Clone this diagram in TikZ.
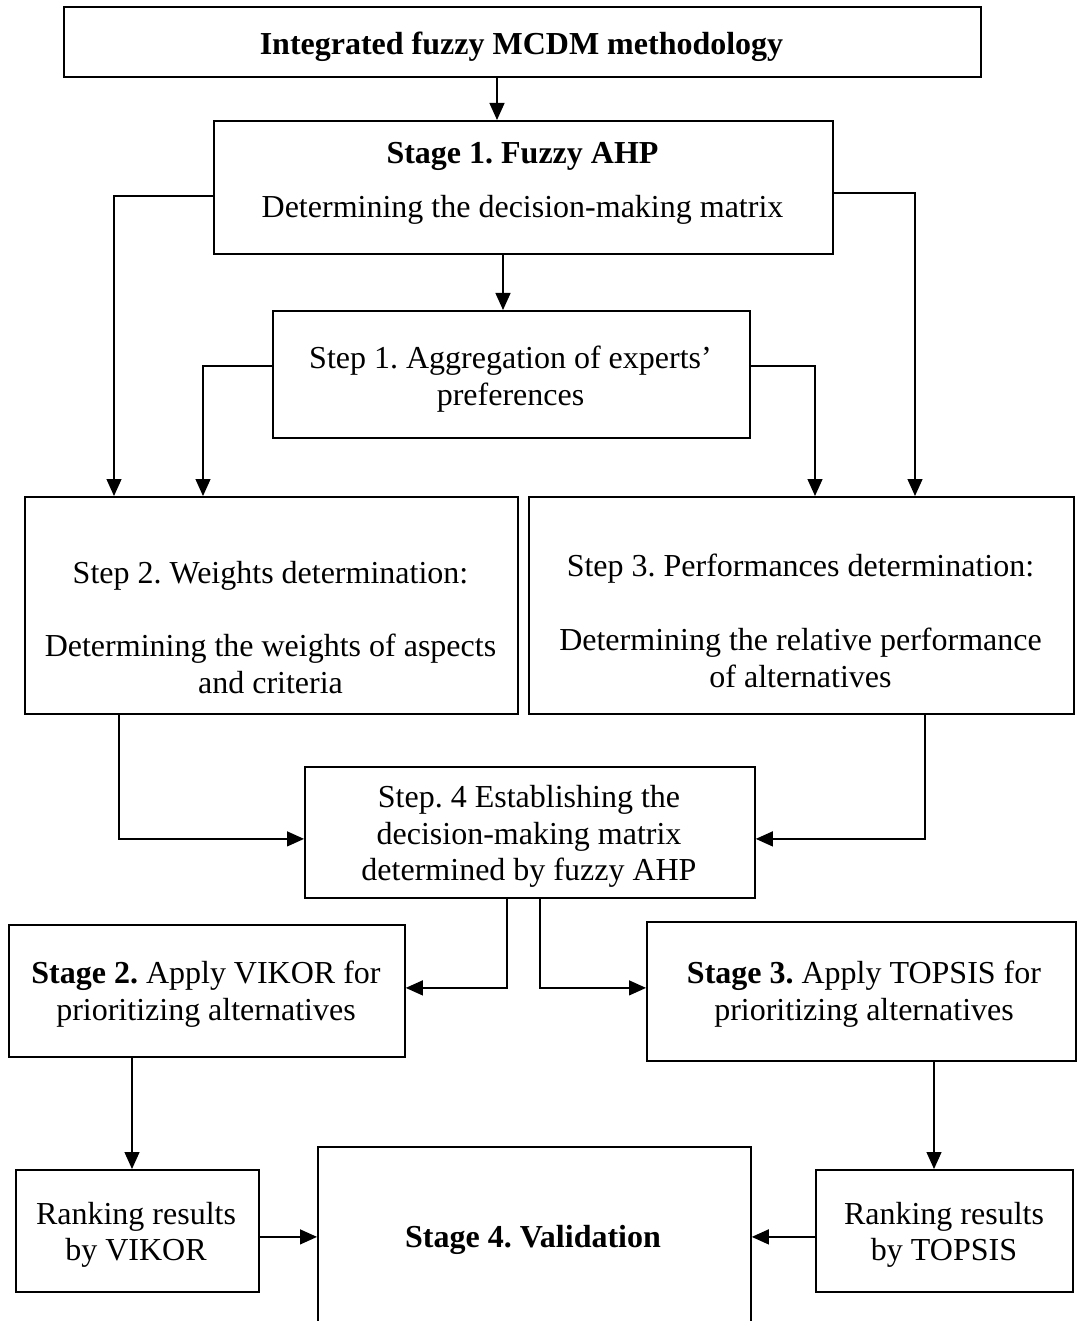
\documentclass[tikz,border=0pt]{standalone}
\usepackage{fontspec}
\setmainfont{Liberation Serif}
\usetikzlibrary{arrows.meta}
\frenchspacing
\begin{document}
\begin{tikzpicture}[x=1pt,y=-1pt,
  box/.style={draw,line width=1.8pt,inner sep=0pt,anchor=north west},
  txt/.style={align=center,inner sep=0pt,font=\fontsize{32}{36.5}\selectfont},
  arr/.style={line width=1.3pt,-{Triangle[length=17pt,width=15pt]}},
  ln/.style={line width=1.3pt}]
\useasboundingbox (0,0) rectangle (1077,1321);
% boxes
\node[box,minimum width=917pt,minimum height=70pt] (top) at (63,6) {};
\node[box,minimum width=619pt,minimum height=133pt] (s1) at (213,120) {};
\node[box,minimum width=477pt,minimum height=127pt] (p1) at (272,310) {};
\node[box,minimum width=493pt,minimum height=217pt] (p2) at (24,496) {};
\node[box,minimum width=545pt,minimum height=217pt] (p3) at (528,496) {};
\node[box,minimum width=450pt,minimum height=131pt] (p4) at (304,766) {};
\node[box,minimum width=396pt,minimum height=132pt] (s2) at (8,924) {};
\node[box,minimum width=429pt,minimum height=139pt] (s3) at (646,921) {};
\node[box,minimum width=243pt,minimum height=122pt] (rv) at (15,1169) {};
\node[box,minimum width=433pt,minimum height=184pt] (s4) at (317,1146) {};
\node[box,minimum width=257pt,minimum height=122pt] (rt) at (815,1169) {};
% texts
\node[txt] (ttop) at (521.5,47) {\textbf{Integrated fuzzy MCDM methodology}};
\node[txt] (ts1) at (522.5,183) {\textbf{Stage 1. Fuzzy AHP}\\[17.5pt]Determining the decision-making matrix};
\node[txt] (tp1) at (510.5,379) {Step 1. Aggregation of experts'\\preferences};
\node[txt] (tp2) at (270.5,627.5) {Step 2. Weights determination:\\[37pt]Determining the weights of aspects\\and criteria};
\node[txt] (tp3) at (800.5,620.5) {Step 3. Performances determination:\\[38pt]Determining the relative performance\\of alternatives};
\node[txt] (tp4) at (529,836.5) {Step. 4 Establishing the\\decision-making matrix\\determined by fuzzy AHP};
\node[txt] (ts2) at (206,994) {\textbf{Stage 2.} Apply VIKOR for\\prioritizing alternatives};
\node[txt] (ts3) at (864,994) {\textbf{Stage 3.} Apply TOPSIS for\\prioritizing alternatives};
\node[txt] (trv) at (136,1235) {Ranking results\\by VIKOR};
\node[txt] (trt) at (944,1235) {Ranking results\\by TOPSIS};
\node[txt] (ts4) at (533,1240) {\textbf{Stage 4. Validation}};
% x coordinates
\coordinate (xa) at (497,0);
\coordinate (xb) at (503,0);
\coordinate (xl) at (114,0);
\coordinate (xil) at (203,0);
\coordinate (xir) at (815,0);
\coordinate (xr) at (915,0);
\coordinate (x2) at (119,0);
\coordinate (x3) at (925,0);
\coordinate (x4l) at (507,0);
\coordinate (x4r) at (540,0);
\coordinate (xv) at (132,0);
\coordinate (xt) at (934,0);
% connectors
\draw[arr] (top.south -| xa) -- (s1.north -| xa);
\draw[arr] (s1.south -| xb) -- (p1.north -| xb);
\draw[arr] ([yshift=-8.5pt]s1.west) -| (p2.north -| xl);
\draw[arr] ([yshift=8.5pt]p1.west) -| (p2.north -| xil);
\draw[arr] ([yshift=8.5pt]p1.east) -| (p3.north -| xir);
\draw[arr] ([yshift=-5.5pt]s1.east) -| (p3.north -| xr);
\draw[arr] (p2.south -| x2) |- ([yshift=-6.5pt]p4.west);
\draw[arr] (p3.south -| x3) |- ([yshift=-6.5pt]p4.east);
\draw[arr] (p4.south -| x4l) |- ([yshift=3pt]s2.east);
\draw[arr] (p4.south -| x4r) |- ([yshift=3.5pt]s3.west);
\draw[arr] (s2.south -| xv) -- (rv.north -| xv);
\draw[arr] (s3.south -| xt) -- (rt.north -| xt);
\draw[arr] ([yshift=-6pt]rv.east) -- ([yshift=-6pt]rv.east -| s4.west);
\draw[arr] ([yshift=-6pt]rt.west) -- ([yshift=-6pt]rt.west -| s4.east);
\end{tikzpicture}
\end{document}
